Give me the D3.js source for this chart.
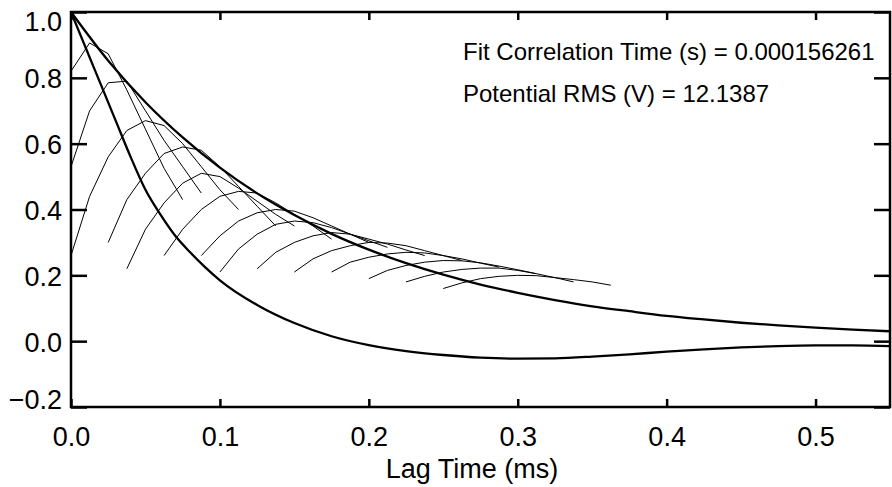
<!DOCTYPE html>
<html>
<head>
<meta charset="utf-8">
<script src="https://cdn.jsdelivr.net/npm/d3@7"></script>
<style>
  html, body { margin: 0; padding: 0; background: #fff; }
  svg { display: block; }
  text { font-family: "Liberation Sans", Arial, Helvetica, sans-serif; fill: #000; }
</style>
</head>
<body>
<svg id="chart" width="892" height="487"></svg>
<script>
// ---------------- data ----------------
const xTicks = [0.0, 0.1, 0.2, 0.3, 0.4, 0.5];
const yTicks = [-0.2, 0.0, 0.2, 0.4, 0.6, 0.8, 1.0];
const xTitle = "Lag Time (ms)";
const annotations = ["Fit Correlation Time (s) = 0.000156261", "Potential RMS (V) = 12.1387"];

// fitted exponential (thick, upper)
const fitLag = [0, 0.025, 0.05, 0.075, 0.1, 0.125, 0.15, 0.175, 0.2, 0.225, 0.25, 0.275, 0.3, 0.325, 0.35, 0.375, 0.4, 0.425, 0.45, 0.475, 0.5, 0.525, 0.55];
const fitValue = [1.0, 0.852, 0.726, 0.619, 0.527, 0.449, 0.383, 0.326, 0.278, 0.237, 0.202, 0.172, 0.147, 0.125, 0.106, 0.091, 0.077, 0.066, 0.056, 0.048, 0.041, 0.035, 0.030];

// auto-correlation (thick, lower)
const autoLag = [0, 0.01, 0.02, 0.03, 0.04, 0.05, 0.06, 0.07, 0.08, 0.09, 0.1, 0.125, 0.15, 0.175, 0.2, 0.225, 0.25, 0.275, 0.3, 0.325, 0.35, 0.375, 0.4, 0.425, 0.45, 0.475, 0.5, 0.525, 0.55];
const autoValue = [1.0, 0.89, 0.78, 0.67, 0.56, 0.46, 0.385, 0.32, 0.27, 0.225, 0.185, 0.11, 0.055, 0.015, -0.012, -0.03, -0.042, -0.05, -0.053, -0.052, -0.047, -0.04, -0.032, -0.025, -0.019, -0.015, -0.013, -0.013, -0.015];

// cross-correlations (thin), sampled every lagStep from their start lag
const lagStep = 0.0125;
const crossStart = [0, 0, 0, 0.025, 0.0375, 0.0625, 0.0875, 0.1, 0.125, 0.15, 0.175, 0.2, 0.225, 0.25];
const crossValues = [
  [0.82, 0.906, 0.873, 0.763, 0.644, 0.525, 0.43],
  [0.53, 0.70, 0.785, 0.79, 0.70, 0.61, 0.53, 0.45],
  [0.26, 0.44, 0.56, 0.64, 0.67, 0.655, 0.60, 0.53, 0.46, 0.40],
  [0.30, 0.43, 0.51, 0.57, 0.59, 0.58, 0.53, 0.47, 0.41, 0.35],
  [0.22, 0.34, 0.42, 0.48, 0.51, 0.50, 0.465, 0.425, 0.385, 0.35],
  [0.26, 0.34, 0.40, 0.44, 0.455, 0.45, 0.42, 0.385, 0.35, 0.31],
  [0.26, 0.32, 0.365, 0.39, 0.40, 0.395, 0.375, 0.35, 0.325, 0.30],
  [0.21, 0.28, 0.325, 0.355, 0.365, 0.36, 0.345, 0.325, 0.305, 0.285],
  [0.22, 0.27, 0.30, 0.32, 0.33, 0.325, 0.31, 0.295, 0.277, 0.26],
  [0.21, 0.25, 0.275, 0.29, 0.30, 0.298, 0.29, 0.275, 0.26, 0.245],
  [0.21, 0.24, 0.255, 0.265, 0.27, 0.268, 0.26, 0.25, 0.237, 0.225],
  [0.19, 0.215, 0.23, 0.24, 0.245, 0.244, 0.238, 0.228, 0.217, 0.205],
  [0.18, 0.197, 0.21, 0.218, 0.222, 0.222, 0.215, 0.205, 0.193, 0.18],
  [0.16, 0.177, 0.19, 0.197, 0.20, 0.199, 0.193, 0.187, 0.18, 0.17]
];

// ---------------- drawing ----------------
const svg = d3.select("#chart");
const m = { left: 71, right: 890, top: 12, bottom: 407 };

const x = d3.scaleLinear().domain([0, 0.55]).range([m.left, m.right]);
const y = d3.scaleLinear().domain([-0.2, 1.0]).range([m.bottom, m.top]);

const fmt = d3.format(".1f");
const axisW = 2.5;

// thin cross-correlation curves
const thinLine = d3.line().x(d => x(d[0])).y(d => y(d[1]));
crossValues.forEach((vals, i) => {
  const pts = vals.map((v, j) => [crossStart[i] + j * lagStep, v]);
  svg.append("path")
    .attr("d", thinLine(pts))
    .attr("fill", "none")
    .attr("stroke", "#000")
    .attr("stroke-width", 1)
    .attr("stroke-linejoin", "round");
});

// thick curves
const smoothLine = d3.line().x(d => x(d[0])).y(d => y(d[1])).curve(d3.curveMonotoneX);
svg.append("path")
  .attr("d", smoothLine(fitLag.map((t, i) => [t, fitValue[i]])))
  .attr("fill", "none").attr("stroke", "#000").attr("stroke-width", 2.3);
svg.append("path")
  .attr("d", smoothLine(autoLag.map((t, i) => [t, autoValue[i]])))
  .attr("fill", "none").attr("stroke", "#000").attr("stroke-width", 2.3);

// axes (ticks inward on all four sides)
function styleAxis(g) {
  g.select(".domain").remove();
  g.selectAll(".tick line").attr("stroke", "#000").attr("stroke-width", axisW);
}
svg.append("g").attr("transform", `translate(0,${m.bottom})`)
  .call(d3.axisBottom(x).tickValues(xTicks).tickSize(-8).tickFormat(fmt))
  .call(styleAxis)
  .call(g => g.selectAll(".tick text")
    .attr("y", 39).attr("dy", null)
    .style("font-size", "27px")
    .style("font-family", "'Liberation Sans', Arial, sans-serif"));
svg.append("g").attr("transform", `translate(0,${m.top})`)
  .call(d3.axisTop(x).tickValues(xTicks).tickSize(-8).tickFormat(""))
  .call(styleAxis);
svg.append("g").attr("transform", `translate(${m.left},0)`)
  .call(d3.axisLeft(y).tickValues(yTicks).tickSize(-16).tickFormat(fmt))
  .call(styleAxis)
  .call(g => g.selectAll(".tick text")
    .attr("x", -9).attr("dy", null)
    .attr("y", d => d === 1.0 ? 18 : (d === -0.2 ? 1 : 10))
    .style("font-size", "27px")
    .style("font-family", "'Liberation Sans', Arial, sans-serif"));
svg.append("g").attr("transform", `translate(${m.right},0)`)
  .call(d3.axisRight(y).tickValues(yTicks).tickSize(-16).tickFormat(""))
  .call(styleAxis);

// frame
svg.append("rect")
  .attr("x", m.left).attr("y", m.top)
  .attr("width", m.right - m.left).attr("height", m.bottom - m.top)
  .attr("fill", "none").attr("stroke", "#000").attr("stroke-width", axisW);

// axis title
svg.append("text")
  .attr("x", 472).attr("y", 478)
  .attr("text-anchor", "middle")
  .style("font-size", "27px")
  .text(xTitle);

// annotations
svg.selectAll("text.note").data(annotations).join("text")
  .attr("class", "note")
  .attr("x", 463).attr("y", (d, i) => 60 + i * 42)
  .style("font-size", "24px")
  .text(d => d);
</script>
</body>
</html>
